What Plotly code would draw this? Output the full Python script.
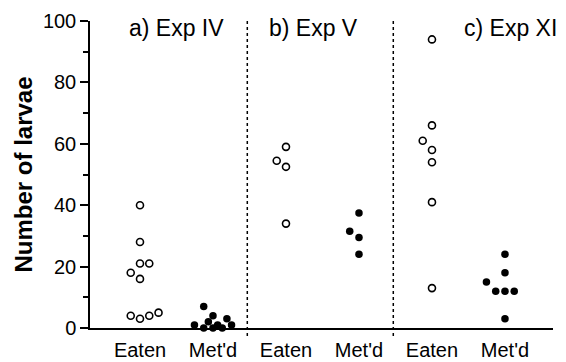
import plotly.graph_objects as go

categories = ["Eaten", "Met'd", "Eaten", "Met'd", "Eaten", "Met'd"]
panel_titles = ["a) Exp IV", "b) Exp V", "c) Exp XI"]

# values per column (Number of larvae)
eaten_a = [40, 28, 21, 21, 18, 16, 4, 3, 4, 5]
metd_a = [7, 4, 2, 1, 0, 0, 1, 0, 3, 1]
eaten_b = [59, 54.5, 52.5, 34]
metd_b = [37.5, 31.5, 29.5, 24]
eaten_c = [94, 66, 61, 58, 54, 41, 13]
metd_c = [24, 18, 15, 12, 12, 12, 3]

# horizontal scatter slots (in jitter steps) for overlapping points
slots_eaten_a = [0, 0, 0, 1, -1, 0, -1, 0, 1, 2]
slots_metd_a = [-1, 0, -0.5, -2, -1, 0, 0.5, 1, 1.5, 2]
slots_eaten_b = [0, -1, 0, 0]
slots_metd_b = [0, -1, 0, 0]
slots_eaten_c = [0, 0, -1, 0, 0, 0, 0]
slots_metd_c = [0, 0, -2, -1, 0, 1, 0]

STEP = 0.127

columns = [
    (0, eaten_a, slots_eaten_a, True),
    (1, metd_a, slots_metd_a, False),
    (2, eaten_b, slots_eaten_b, True),
    (3, metd_b, slots_metd_b, False),
    (4, eaten_c, slots_eaten_c, True),
    (5, metd_c, slots_metd_c, False),
]

FONT = "Liberation Sans, Arial"

fig = go.Figure()
for pos, vals, slots, is_open in columns:
    xs = [pos + s * STEP for s in slots]
    if is_open:
        marker = dict(symbol="circle-open", size=7, color="black", line=dict(width=1.6, color="black"))
    else:
        marker = dict(symbol="circle", size=7.5, color="black", line=dict(width=0))
    fig.add_trace(go.Scatter(x=xs, y=vals, mode="markers", marker=marker,
                             showlegend=False, cliponaxis=False, hoverinfo="y"))

# dotted separators between experiments
for xsep in [1.47, 3.47]:
    fig.add_shape(type="line", xref="x", yref="paper", x0=xsep, x1=xsep, y0=-0.026, y1=1.0,
                  line=dict(color="black", width=1.5, dash="dot"))

for xt, t in zip([0.5, 2.38, 5.08], panel_titles):
    fig.add_annotation(x=xt, y=0.977, xref="x", yref="paper", text=t, showarrow=False,
                       xanchor="center", yanchor="middle",
                       font=dict(family=FONT, size=23, color="black"))

fig.update_layout(
    width=566, height=362,
    margin=dict(l=90, r=13, t=21, b=34),
    paper_bgcolor="white", plot_bgcolor="white",
    font=dict(family=FONT, color="black"),
)
fig.update_xaxes(range=[-0.685, 5.658], tickvals=list(range(6)), ticktext=categories,
                 ticks="outside", ticklen=3, tickcolor="rgba(0,0,0,0)", automargin=False,
                 showgrid=False, zeroline=False, showline=True, linecolor="black",
                 linewidth=1.5, tickfont=dict(size=20, color="black"))
fig.update_yaxes(range=[0, 100], dtick=20, ticks="outside", ticklen=8, tickwidth=1.5,
                 tickcolor="black", showgrid=False, zeroline=False, showline=True, automargin=False,
                 linecolor="black", linewidth=1.5, tickfont=dict(size=20, color="black"),
                 minor=dict(dtick=10, ticks="outside", ticklen=5, tickwidth=1.5, tickcolor="black", showgrid=False),
                 title=dict(text="<b>Number of larvae</b>", font=dict(size=24, color="black"), standoff=3))

fig.write_html("out.html")
